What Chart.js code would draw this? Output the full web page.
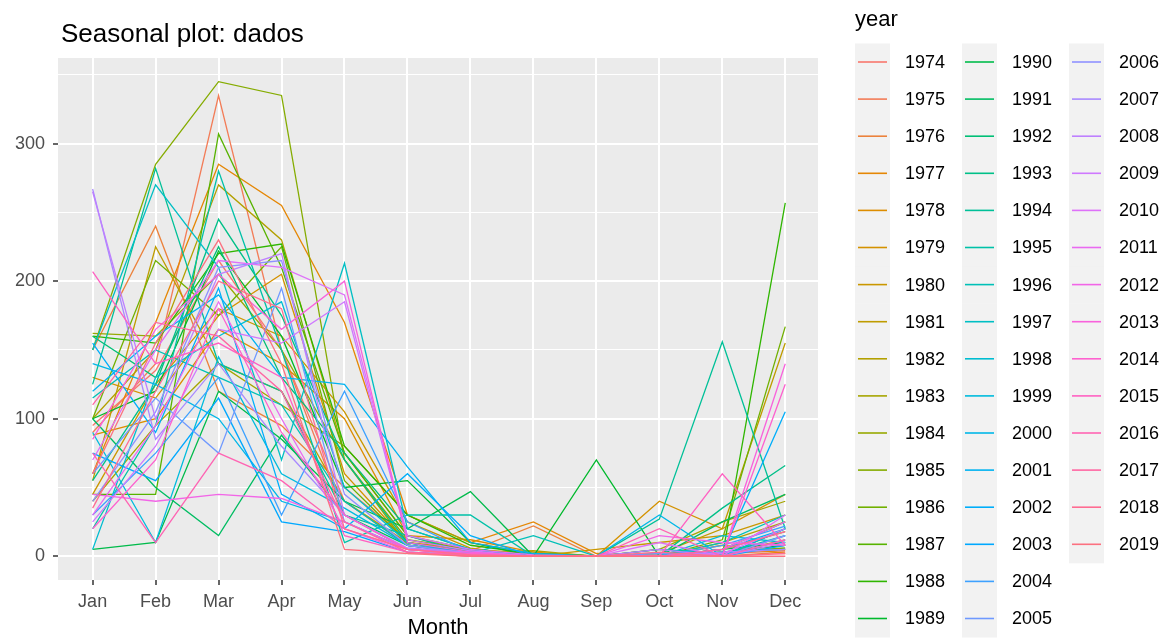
<!DOCTYPE html>
<html>
<head>
<meta charset="utf-8">
<script src="https://cdn.jsdelivr.net/npm/chart.js@4.4.1/dist/chart.umd.min.js"></script>
<style>
  html, body { margin: 0; padding: 0; background: #ffffff; }
  #wrap { position: relative; width: 1170px; height: 639px; }
  canvas { display: block; }
</style>
</head>
<body>
<div id="wrap"><canvas id="c" width="1170" height="639"></canvas></div>
<script>
// ---- data ----
const chartTitle = "Seasonal plot: dados";
const xTitle = "Month";
const legendTitle = "year";
const months = ["Jan","Feb","Mar","Apr","May","Jun","Jul","Aug","Sep","Oct","Nov","Dec"];
const yTicks = [0, 50, 100, 150, 200, 250, 300, 350];
const years = [1974,1975,1976,1977,1978,1979,1980,1981,1982,1983,1984,1985,1986,1987,1988,1989,
  1990,1991,1992,1993,1994,1995,1996,1997,1998,1999,2000,2001,2002,2003,2004,2005,
  2006,2007,2008,2009,2010,2011,2012,2013,2014,2015,2016,2017,2018,2019];

const y1974 = [95,135,215,150,40,8,3,1,0,1,3,5];
const y1975 = [90,140,335,150,30,5,2,0,0,0,2,4];
const y1976 = [150,240,120,95,50,12,4,22,0,5,0,3];
const y1977 = [60,170,285,255,170,30,10,25,2,0,8,2];
const y1978 = [88,100,165,140,100,15,12,3,0,0,2,12];
const y1979 = [130,115,175,205,60,10,5,2,0,40,20,45];
const y1980 = [45,125,180,160,105,25,6,0,5,10,15,30];
const y1981 = [55,225,140,120,40,10,3,0,0,2,20,155];
const y1982 = [100,150,270,230,75,15,3,4,0,0,10,25];
const y1983 = [40,95,140,110,80,30,10,2,0,5,25,40];
const y1984 = [162,160,205,150,70,8,2,0,0,0,5,18];
const y1985 = [150,285,345,335,70,12,5,0,0,0,3,6];
const y1986 = [100,215,175,225,55,10,3,0,0,0,12,167];
const y1987 = [45,45,307,210,75,15,5,0,0,0,5,25];
const y1988 = [160,155,220,227,80,30,8,2,0,0,0,257];
const y1989 = [100,120,222,160,50,55,10,0,70,0,3,8];
const y1990 = [5,10,120,85,40,20,47,0,0,0,5,10];
const y1991 = [100,50,15,88,30,8,2,0,0,0,25,45];
const y1992 = [160,130,225,130,75,20,5,0,0,0,0,20];
const y1993 = [55,125,245,175,70,10,3,0,0,0,35,66];
const y1994 = [125,282,140,120,30,15,2,0,0,27,156,20];
const y1995 = [20,95,280,150,10,30,30,0,0,5,2,15];
const y1996 = [115,150,130,110,40,8,2,15,0,0,10,30];
const y1997 = [150,270,210,70,213,20,5,0,0,0,0,20];
const y1998 = [5,130,160,185,50,10,2,0,0,0,15,10];
const y1999 = [90,10,145,60,35,8,3,0,0,0,3,5];
const y2000 = [140,125,100,40,25,5,2,0,0,30,0,15];
const y2001 = [120,160,190,130,125,65,10,2,0,0,5,20];
const y2002 = [155,90,195,45,20,60,15,0,0,0,2,105];
const y2003 = [75,55,115,25,18,3,1,0,0,0,0,8];
const y2004 = [30,75,130,30,120,25,3,0,0,0,8,22];
const y2005 = [60,115,75,195,25,5,2,0,0,2,0,12];
const y2006 = [40,105,210,215,45,8,2,0,0,0,0,15];
const y2007 = [267,85,140,80,30,5,1,0,0,0,3,5];
const y2008 = [265,100,205,220,30,6,3,0,0,5,0,10];
const y2009 = [25,80,165,155,185,12,4,0,0,0,2,20];
const y2010 = [70,150,215,210,190,15,5,1,0,10,0,30];
const y2011 = [30,95,185,100,20,3,0,0,0,0,5,25];
const y2012 = [45,40,45,42,25,5,1,0,0,15,10,8];
const y2013 = [85,165,205,165,200,10,3,0,0,0,0,140];
const y2014 = [20,70,180,90,30,5,2,0,0,0,0,125];
const y2015 = [207,140,155,130,15,3,1,0,0,0,60,8];
const y2016 = [75,10,75,55,20,5,1,0,0,20,0,12];
const y2017 = [110,170,160,120,25,3,0,0,0,0,5,18];
const y2018 = [35,120,200,180,20,5,1,0,0,3,0,2];
const y2019 = [60,155,230,140,5,2,0,0,0,0,0,0];

const seriesValues = [y1974,y1975,y1976,y1977,y1978,y1979,y1980,y1981,y1982,y1983,y1984,y1985,y1986,y1987,y1988,y1989,
  y1990,y1991,y1992,y1993,y1994,y1995,y1996,y1997,y1998,y1999,y2000,y2001,y2002,y2003,y2004,y2005,
  y2006,y2007,y2008,y2009,y2010,y2011,y2012,y2013,y2014,y2015,y2016,y2017,y2018,y2019];

// ---- ggplot2 hue palette (hcl, c=100, l=65) ----
function hcl(h, c, l) {
  const hr = h * Math.PI / 180;
  const U = c * Math.cos(hr), V = c * Math.sin(hr);
  const Xn = 95.047, Yn = 100, Zn = 108.883;
  const den = Xn + 15 * Yn + 3 * Zn;
  const un = 4 * Xn / den, vn = 9 * Yn / den;
  const Y = l > 8 ? Yn * Math.pow((l + 16) / 116, 3) : Yn * l / 903.3;
  const u = U / (13 * l) + un, v = V / (13 * l) + vn;
  const X = Y * 9 * u / (4 * v);
  const Z = Y * (12 - 3 * u - 20 * v) / (4 * v);
  const x = X / 100, y = Y / 100, z = Z / 100;
  let r = 3.240479 * x - 1.537150 * y - 0.498535 * z;
  let g = -0.969256 * x + 1.875992 * y + 0.041556 * z;
  let b = 0.055648 * x - 0.204043 * y + 1.057311 * z;
  const gam = t => { t = t <= 0.0031308 ? 12.92 * t : 1.055 * Math.pow(t, 1 / 2.4) - 0.055; return Math.round(Math.min(1, Math.max(0, t)) * 255); };
  return `rgb(${gam(r)},${gam(g)},${gam(b)})`;
}
const n = years.length;
const colors = years.map((_, i) => hcl(15 + i * 360 / n, 100, 65));

// ---- plugins ----
const panelBg = {
  id: 'panelBg',
  beforeDraw(chart) {
    const { ctx, chartArea: a } = chart;
    ctx.save();
    ctx.fillStyle = '#EBEBEB';
    ctx.fillRect(a.left, a.top, a.right - a.left, a.bottom - a.top);
    ctx.restore();
  }
};
const textDecor = {
  id: 'textDecor',
  afterDraw(chart) {
    const ctx = chart.ctx;
    ctx.save();
    // plot title
    ctx.fillStyle = '#000000';
    ctx.font = '26px "Liberation Sans", Arial, sans-serif';
    ctx.textBaseline = 'middle';
    ctx.textAlign = 'left';
    ctx.fillText(chartTitle, 61, 35);
    // legend
    const lx = 855, colStep = 107, rowTop = 62, rowStep = 37.1, perCol = 16;
    ctx.font = '22px "Liberation Sans", Arial, sans-serif';
    ctx.fillText(legendTitle, lx, 20);
    ctx.font = '18px "Liberation Sans", Arial, sans-serif';
    chart.data.datasets.forEach((ds, i) => {
      const col = Math.floor(i / perCol), row = i % perCol;
      const kx = lx + col * colStep;
      const cy = rowTop + row * rowStep;
      ctx.fillStyle = '#F2F2F2';
      ctx.fillRect(kx, cy - rowStep / 2, 35, rowStep + 0.5);
      ctx.strokeStyle = ds.borderColor;
      ctx.lineWidth = 1.6;
      ctx.beginPath();
      ctx.moveTo(kx + 3, cy);
      ctx.lineTo(kx + 32, cy);
      ctx.stroke();
      ctx.fillStyle = '#000000';
      ctx.fillText(ds.label, kx + 50, cy + 1);
    });
    ctx.restore();
  }
};

const datasets = years.map((yr, i) => ({
  label: String(yr),
  data: seriesValues[i].map((v, m) => ({ x: m + 1, y: v })),
  borderColor: colors[i],
  backgroundColor: colors[i],
  borderWidth: 1.3,
  pointRadius: 0,
  tension: 0,
  fill: false,
  order: n - i
}));

new Chart(document.getElementById('c'), {
  type: 'line',
  data: { datasets },
  options: {
    responsive: false,
    animation: false,
    devicePixelRatio: 1,
    layout: { padding: { left: 0, right: 352, top: 58, bottom: 0 } },
    plugins: { legend: { display: false }, title: { display: false }, tooltip: { enabled: false } },
    scales: {
      x: {
        type: 'linear',
        min: 0.45,
        max: 12.52,
        afterFit: s => { s.height = 59; },
        afterBuildTicks: s => { s.ticks = months.map((_, i) => ({ value: i + 1 })); },
        border: { display: false },
        grid: { color: '#FFFFFF', lineWidth: 2, tickLength: 5, tickColor: '#333333', tickWidth: 1.5 },
        ticks: {
          color: '#4D4D4D', padding: 6, maxRotation: 0, autoSkip: false,
          font: { family: '"Liberation Sans", Arial, sans-serif', size: 18 },
          callback: v => months[Math.round(v) - 1] || ''
        },
        title: { display: true, text: xTitle, color: '#000000', padding: { top: 0, bottom: -2 },
          font: { family: '"Liberation Sans", Arial, sans-serif', size: 22 } }
      },
      y: {
        type: 'linear',
        min: -17.25,
        max: 362.25,
        afterFit: s => { s.width = 58; },
        afterBuildTicks: s => { s.ticks = yTicks.map(v => ({ value: v })); },
        border: { display: false },
        grid: {
          color: '#FFFFFF',
          lineWidth: c => (c.tick && c.tick.value % 100 === 0) ? 2 : 1,
          tickLength: 5,
          tickWidth: 1.5,
          tickColor: c => (c.tick && c.tick.value % 100 === 0) ? '#333333' : 'rgba(0,0,0,0)'
        },
        ticks: {
          color: '#4D4D4D', padding: 8,
          font: { family: '"Liberation Sans", Arial, sans-serif', size: 18 },
          callback: v => (v % 100 === 0 ? String(v) : '')
        }
      }
    }
  },
  plugins: [panelBg, textDecor]
});
</script>
</body>
</html>
